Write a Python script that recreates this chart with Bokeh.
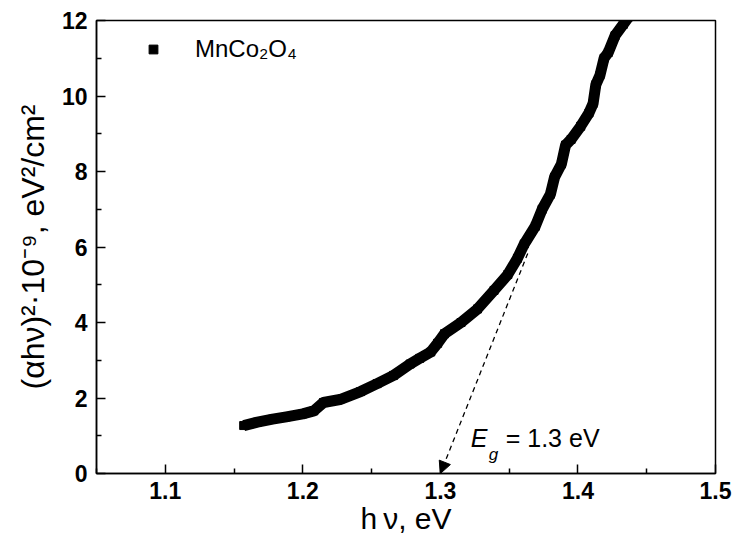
from bokeh.plotting import figure
from bokeh.models import Range1d, FixedTicker, Label, Arrow, NormalHead, Legend, LegendItem
from bokeh.embed import file_html
from bokeh.resources import INLINE

# photon energy hv (eV) and (alpha*h*nu)^2 * 1e-9 (eV^2/cm^2)
hv = [1.157, 1.167, 1.178, 1.188, 1.200, 1.208, 1.215, 1.227, 1.242, 1.254,
      1.266, 1.278, 1.285, 1.293, 1.298, 1.303, 1.315, 1.327, 1.339, 1.349,
      1.356, 1.361, 1.369, 1.374, 1.380, 1.383, 1.388, 1.391, 1.395, 1.402,
      1.408, 1.411, 1.413, 1.416, 1.419, 1.422, 1.427, 1.433, 1.437]
ahv2 = [1.27, 1.36, 1.44, 1.50, 1.58, 1.66, 1.88, 1.96, 2.17, 2.38,
        2.60, 2.90, 3.05, 3.22, 3.45, 3.70, 4.00, 4.36, 4.85, 5.27,
        5.70, 6.08, 6.55, 7.00, 7.40, 7.85, 8.20, 8.70, 8.85, 9.20,
        9.55, 9.80, 10.30, 10.55, 11.00, 11.15, 11.60, 11.90, 12.10]

x_ticks = [1.1, 1.2, 1.3, 1.4, 1.5]
x_minor = [1.05, 1.15, 1.25, 1.35, 1.45]
y_ticks = [0, 2, 4, 6, 8, 10, 12]
y_minor = [1, 3, 5, 7, 9, 11]

series_name = "MnCo\u2082O\u2084"
eg_value = 1.3          # band gap where tangent meets the axis
tangent_from = (1.3635, 5.83)

p = figure(width=735, height=540, output_backend="svg", toolbar_location=None,
           x_range=Range1d(1.05, 1.5), y_range=Range1d(0, 12),
           min_border_left=96, min_border_right=20, min_border_top=20, min_border_bottom=67)
p.background_fill_color = "white"
p.border_fill_color = "white"
p.outline_line_color = "black"
p.outline_line_width = 1.5
p.xgrid.visible = False
p.ygrid.visible = False

p.xaxis.ticker = FixedTicker(ticks=x_ticks, minor_ticks=x_minor)
p.yaxis.ticker = FixedTicker(ticks=y_ticks, minor_ticks=y_minor)

for ax in (p.xaxis, p.yaxis):
    ax.major_tick_in = 9
    ax.major_tick_out = 0
    ax.minor_tick_in = 5
    ax.minor_tick_out = 0
    ax.axis_line_width = 1.5
    ax.major_tick_line_width = 1.5
    ax.minor_tick_line_width = 1.5
    ax.axis_line_color = "black"
    ax.major_tick_line_color = "black"
    ax.minor_tick_line_color = "black"
    ax.major_label_text_font = "Liberation Sans"
    ax.major_label_text_font_style = "bold"
    ax.major_label_text_font_size = "23px"
    ax.major_label_text_color = "black"
    ax.axis_label_text_font = "Liberation Sans"
    ax.axis_label_text_font_style = "normal"
    ax.axis_label_text_color = "black"

p.xaxis.axis_label_text_font_size = "30px"
p.yaxis.axis_label_text_font_size = "32px"
p.xaxis.major_label_standoff = 8
p.xaxis.axis_label_standoff = 0
p.yaxis.major_label_standoff = 9
p.yaxis.axis_label_standoff = 8
p.xaxis.axis_label = "h\u2009\u03bd, eV"
p.yaxis.axis_label = "(\u03b1h\u03bd)\u00b2\u00b710\u207b\u2079, eV\u00b2/cm\u00b2"

p.line(hv, ahv2, line_color="black", line_width=11, line_join="round")
pts = p.scatter(hv, ahv2, marker="square", size=8, color="black")

legend = Legend(items=[LegendItem(label=series_name, renderers=[pts])],
                location="top_left", margin=15, padding=0, spacing=0,
                glyph_width=84, glyph_height=22, label_standoff=0,
                label_text_font="Liberation Sans", label_text_font_size="24px",
                label_text_color="black",
                border_line_alpha=0, background_fill_alpha=0)
p.add_layout(legend)

p.add_layout(Arrow(end=NormalHead(size=12, fill_color="black", line_color="black"),
                   x_start=tangent_from[0], y_start=tangent_from[1],
                   x_end=eg_value, y_end=0,
                   line_color="black", line_width=1.3, line_dash="5 4"))

p.add_layout(Label(x=1.322, y=0.56, text="E", text_font="Liberation Sans",
                   text_font_style="italic", text_font_size="25px", text_color="black"))
p.add_layout(Label(x=1.3352, y=0.25, text="g", text_font="Liberation Sans",
                   text_font_style="italic", text_font_size="17px", text_color="black"))
p.add_layout(Label(x=1.3475, y=0.56, text="= %.1f eV" % eg_value, text_font="Liberation Sans",
                   text_font_size="25px", text_color="black"))

open("out.html", "w").write(file_html(p, INLINE))
